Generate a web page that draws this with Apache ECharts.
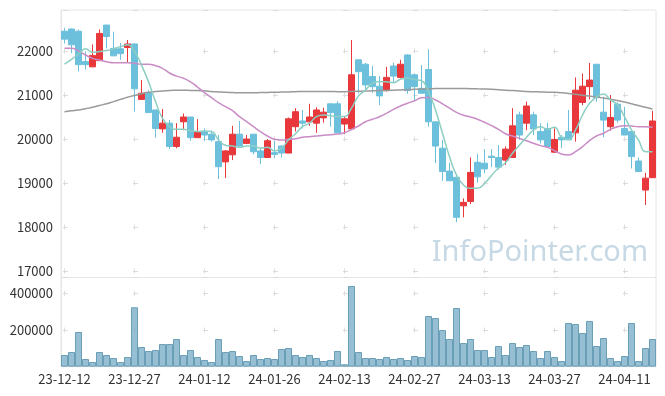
<!DOCTYPE html>
<html><head><meta charset="utf-8">
<script src="https://cdn.jsdelivr.net/npm/echarts@6/dist/echarts.min.js"></script>
<style>html,body{margin:0;padding:0;background:#fff}#c{width:665px;height:396px}</style>
</head><body><div id="c"></div>
<script>
const dates = ["23-12-12","23-12-13","23-12-14","23-12-15","23-12-18","23-12-19","23-12-20","23-12-21","23-12-22","23-12-26","23-12-27","23-12-28",
"24-01-02","24-01-03","24-01-04","24-01-05","24-01-08","24-01-09","24-01-10","24-01-11","24-01-12","24-01-15","24-01-16","24-01-17","24-01-18","24-01-19","24-01-22","24-01-23","24-01-24","24-01-25","24-01-26","24-01-29","24-01-30","24-01-31",
"24-02-01","24-02-02","24-02-05","24-02-06","24-02-07","24-02-08","24-02-13","24-02-14","24-02-15","24-02-16","24-02-19","24-02-20","24-02-21","24-02-22","24-02-23","24-02-26","24-02-27","24-02-28","24-02-29",
"24-03-04","24-03-05","24-03-06","24-03-07","24-03-08","24-03-11","24-03-12","24-03-13","24-03-14","24-03-15","24-03-18","24-03-19","24-03-20","24-03-21","24-03-22","24-03-25","24-03-26","24-03-27","24-03-28","24-03-29",
"24-04-01","24-04-02","24-04-03","24-04-04","24-04-05","24-04-08","24-04-09","24-04-11","24-04-12","24-04-15","24-04-16","24-04-17"];
const openP = [22450,22500,22450,21760,21640,21780,22590,22060,22050,22080,22160,20900,21050,20660,20230,20360,19830,20390,20500,20030,20170,20110,19940,19480,19640,20110,19900,20110,19730,19580,19690,19840,19680,20280,20410,20390,20360,20480,20800,20800,20340,20230,21800,21700,21420,21200,21100,21660,21400,21910,21460,21150,21580,20390,19790,19270,19130,18480,18580,19470,19450,19610,19580,19520,19580,20550,20360,20550,20170,20240,19700,20040,20170,20140,20830,21190,21700,20610,20280,20790,20240,20170,19500,18840,19120];
const closeP = [22270,22140,21690,21690,21900,22400,22330,21890,21940,22160,21140,21040,20600,20240,20360,19830,20040,20500,20030,20150,20090,19980,19370,19730,20110,19840,20000,19710,19580,19960,19650,19680,20460,20620,20360,20500,20660,20610,20600,20140,20460,21460,21530,21230,21190,20980,21400,21430,21700,21100,21190,21040,20390,19840,19260,19050,18220,18560,19240,19140,19320,19580,19360,19770,20300,20090,20750,20230,19980,19830,19990,19980,19980,21110,21200,21340,20940,20430,20490,20430,20090,19600,19260,19110,20410];
const lowP = [22170,21950,21530,21580,21630,21780,22060,21890,21800,21730,20620,20900,20600,20030,20140,19770,19790,20200,19960,20030,19960,19940,19090,19110,19520,19840,19900,19650,19430,19580,19560,19580,19680,20170,20240,20300,20140,20370,20280,20140,20110,20200,21040,21130,21050,20770,21080,21270,21380,21030,20870,21040,20280,19450,19050,19050,18110,18220,18520,19010,19220,19360,19300,19410,19580,19980,20200,20090,19900,19800,19680,19790,19980,19940,20770,20900,20850,20040,20190,20370,20090,19330,19260,18500,19120];
const highP = [22530,22510,22490,21990,22150,22490,22590,22440,22180,22250,22180,21340,21110,20660,20680,20430,20360,20580,20500,20450,20240,20190,20090,19750,20300,20410,20090,20110,19810,20000,19960,19860,20490,20700,20660,20800,20720,20710,20800,20860,20510,22250,21800,21730,21660,21430,21640,21730,21800,21930,21490,21680,22040,20390,19980,19460,19140,18650,19580,19660,19770,19770,19860,19830,20700,20620,20850,20620,20360,20370,20240,20090,20660,21400,21490,21730,21700,20960,21000,20830,20730,20200,19580,19230,20640];
const ma5 = [21700,21810,21930,22050,21970,21990,22010,22050,22100,22140,21990,21680,21300,20850,20470,20280,20220,20220,20190,20170,20180,20170,19980,19860,19840,19810,19840,19840,19790,19810,19730,19790,19980,20120,20280,20360,20510,20545,20530,20510,20510,20700,20980,21110,21270,21300,21300,21280,21360,21380,21350,21325,21075,20660,20130,19600,19180,18955,18880,18880,18990,19170,19340,19460,19675,19864,20040,20205,20280,20220,20266,20040,19990,20205,20545,20810,20960,21020,20886,20773,20507,20205,19977,19711,19711];
const ma20 = [22060,22060,22000,21910,21833,21795,21757,21734,21734,21734,21720,21697,21697,21666,21606,21500,21430,21380,21300,21180,21055,20940,20825,20734,20643,20507,20393,20280,20166,20068,19993,19977,19993,20005,20039,20053,20068,20083,20098,20114,20143,20220,20295,20393,20448,20507,20584,20675,20750,20811,20870,20935,20945,20886,20800,20700,20605,20540,20500,20450,20380,20305,20220,20120,20068,20015,19961,19902,19850,19811,19734,19659,19636,19711,19825,19961,20068,20130,20220,20280,20303,20295,20280,20280,20266];
const ma60 = [20620,20640,20660,20690,20720,20760,20800,20850,20900,20950,20990,21030,21060,21080,21090,21100,21110,21110,21105,21100,21095,21080,21070,21060,21055,21050,21050,21052,21055,21058,21062,21066,21070,21075,21080,21082,21082,21080,21078,21076,21075,21080,21085,21090,21095,21100,21105,21110,21115,21120,21128,21135,21140,21145,21150,21150,21148,21146,21144,21140,21136,21130,21120,21110,21100,21090,21080,21075,21070,21065,21060,21050,21035,21015,20995,20975,20955,20930,20905,20875,20840,20800,20760,20720,20680];
const volume = [63800,80100,189000,42000,25600,80100,63800,47400,25600,52900,323700,107400,85600,91000,123700,123700,151000,63800,91000,52900,36500,25600,151000,80100,85600,58300,31000,63800,42000,47400,42000,96500,101900,63800,52900,63800,47400,31000,36500,85600,13000,439800,80100,47400,47400,42000,52900,42000,47400,36500,58300,52900,276300,265400,200000,151000,319900,129200,151000,91000,91000,52900,112800,63800,129200,107400,118300,85600,47400,85600,52900,31000,238200,232700,183700,249100,112800,156400,47400,31000,58300,238200,31000,101900,151000];
const watermark = "InfoPointer.com";

const FONT = "'Noto Sans CJK KR','Noto Sans',sans-serif";
const ohlc = dates.map((d, i) => [openP[i], closeP[i], lowP[i], highP[i]]);
const chart = echarts.init(document.getElementById('c'), null, {renderer: 'canvas'});
const crossColor = '#dcdcdc';
const plain = v => String(v);
chart.setOption({
  animation: false,
  textStyle: {fontFamily: FONT},
  grid: [
    {left: 61, right: 9, top: 10, height: 267.5, show: true, borderColor: '#e6e6e6', borderWidth: 1},
    {left: 61, right: 9, top: 277.5, height: 89.2, show: true, borderColor: '#e6e6e6', borderWidth: 1}
  ],
  graphic: [{
    type: 'text', right: 17, top: 238, z: 0,
    style: {text: watermark, fill: '#c6d9e4', font: "29px 'Noto Sans', sans-serif"}
  }],
  xAxis: [
    {type: 'category', data: dates, gridIndex: 0, boundaryGap: true,
     axisLine: {show: false}, axisTick: {show: false}, axisLabel: {show: false},
     splitLine: {show: true, interval: 9, alignWithLabel: true, lineStyle: {color: crossColor, type: [5, 39], dashOffset: 5.5}}},
    {type: 'category', data: dates, gridIndex: 1, boundaryGap: true,
     axisLine: {show: false}, axisTick: {show: false},
     axisLabel: {interval: 9, fontSize: 13, color: '#333', fontFamily: FONT, margin: 6},
     splitLine: {show: true, interval: 9, alignWithLabel: true, lineStyle: {color: crossColor, type: [5, 31.7], dashOffset: 23.4}}}
  ],
  yAxis: [
    {type: 'value', gridIndex: 0, min: 16852, max: 22932, scale: true,
     axisLine: {show: true, lineStyle: {color: '#e6e6e6'}}, axisTick: {show: false},
     axisLabel: {fontSize: 13, color: '#333', fontFamily: FONT, showMinLabel: false, showMaxLabel: false, margin: 8, formatter: plain},
     splitLine: {show: true, lineStyle: {color: crossColor, type: [5, 65], dashOffset: 68}}},
    {type: 'value', gridIndex: 1, min: 0, max: 486000, interval: 200000,
     axisLine: {show: true, lineStyle: {color: '#e6e6e6'}}, axisTick: {show: false},
     axisLabel: {fontSize: 13, color: '#333', fontFamily: FONT, showMinLabel: false, showMaxLabel: false, margin: 8, formatter: plain},
     splitLine: {show: true, lineStyle: {color: crossColor, type: [5, 65], dashOffset: 68}}}
  ],
  series: [
    {type: 'candlestick', xAxisIndex: 0, yAxisIndex: 0, data: ohlc, barWidth: 6,
     itemStyle: {color: '#e8383b', color0: '#6cc0dc', borderColor: '#e8383b', borderColor0: '#6cc0dc', borderWidth: 1}},
    {type: 'line', name: 'MA60', xAxisIndex: 0, yAxisIndex: 0, data: ma60, smooth: true, showSymbol: false,
     lineStyle: {color: '#9a9a9a', width: 1.5}},
    {type: 'line', name: 'MA20', xAxisIndex: 0, yAxisIndex: 0, data: ma20, smooth: true, showSymbol: false,
     lineStyle: {color: '#c98cc6', width: 1.5}},
    {type: 'line', name: 'MA5', xAxisIndex: 0, yAxisIndex: 0, data: ma5, smooth: true, showSymbol: false,
     lineStyle: {color: '#8ccfc2', width: 1.5}},
    {type: 'bar', xAxisIndex: 1, yAxisIndex: 1, data: volume, barCategoryGap: '0%',
     itemStyle: {color: 'rgba(132,180,203,0.85)', borderColor: '#6b9fb7', borderWidth: 1}}
  ]
});
</script></body></html>
